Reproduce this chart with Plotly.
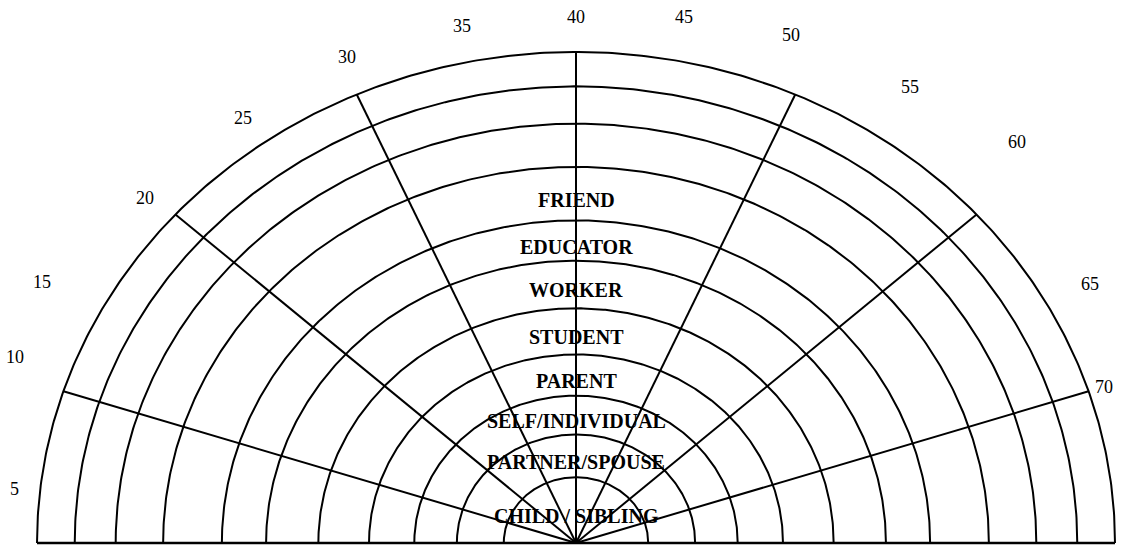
import numpy as np
import plotly.graph_objects as go

# ---------------- data ----------------
age_labels = [5, 10, 15, 20, 25, 30, 35, 40, 45, 50, 55, 60, 65, 70]
spoke_ages = [10, 20, 30, 40, 50, 60, 70]
# ring radii (outer -> inner), relative to the outer ring
ring_radii = [1.0, 0.930, 0.854, 0.766, 0.657, 0.575, 0.478, 0.384, 0.300, 0.221, 0.134]
# roles, from the innermost band outwards
roles = ["CHILD / SIBLING", "PARTNER/SPOUSE", "SELF/INDIVIDUAL", "PARENT",
         "STUDENT", "WORKER", "EDUCATOR", "FRIEND"]

# ---------------- layout / style ----------------
W, H = 1135, 546
CX_PX, BASE_PX = 576, 543        # centre of the half disc in pixels
RX_PX, RY_PX = 539, 491          # pixel size of one radius unit (x, y)
LINE = dict(color="black", width=2)
SERIF = "Liberation Serif, Times New Roman, serif"
ROLE_YSHIFT = -6

# label placement tweaks per age label: (angle delta in degrees, radius factor)
label_tweak = {5: (0, 1.047), 10: (-2, 1.108), 15: (1.8, 1.125), 20: (0.7, 1.065),
               25: (-0.5, 1.064), 30: (-0.8, 1.077), 35: (-0.6, 1.074), 40: (0, 1.071),
               45: (1.4, 1.09), 50: (2.9, 1.11), 55: (2.3, 1.117), 60: (3, 1.156),
               65: (-1, 1.09), 70: (0, 1.03)}


def age_angle(age):
    """angle (degrees) of an age on the half disc"""
    return 186.0 - 2.4 * age


fig = go.Figure()

# concentric arcs
t = np.linspace(0, np.pi, 400)
for r in ring_radii:
    fig.add_trace(go.Scatter(x=r * np.cos(t), y=r * np.sin(t), mode="lines",
                             line=LINE, hoverinfo="skip", showlegend=False))

# baseline
outer = max(ring_radii)
fig.add_trace(go.Scatter(x=[-outer, outer], y=[0, 0], mode="lines",
                         line=dict(color="black", width=2.5), hoverinfo="skip",
                         showlegend=False))

# spokes
for a in spoke_ages:
    th = np.radians(age_angle(a))
    fig.add_trace(go.Scatter(x=[0, outer * np.cos(th)], y=[0, outer * np.sin(th)],
                             mode="lines", line=LINE, hoverinfo="skip",
                             showlegend=False))

annotations = []
# age labels
for a in age_labels:
    d, rf = label_tweak[a]
    th = np.radians(age_angle(a) + d)
    annotations.append(dict(x=rf * np.cos(th), y=rf * np.sin(th), text=str(a),
                            showarrow=False, xref="x", yref="y",
                            font=dict(family=SERIF, size=18, color="black")))

# role labels in the middle of their bands
inner_to_outer = sorted(ring_radii)
bounds = [0.0] + inner_to_outer
for i, role in enumerate(roles):
    ymid = (bounds[i] + bounds[i + 1]) / 2
    annotations.append(dict(x=0, y=ymid, text="<b>%s</b>" % role, showarrow=False,
                            xref="x", yref="y", yshift=ROLE_YSHIFT,
                            font=dict(family=SERIF, size=20, color="black")))

fig.update_layout(
    width=W, height=H, autosize=False,
    margin=dict(l=0, r=0, t=0, b=0),
    paper_bgcolor="white", plot_bgcolor="white",
    xaxis=dict(range=[-CX_PX / RX_PX, (W - CX_PX) / RX_PX], visible=False,
               fixedrange=True),
    yaxis=dict(range=[-(H - BASE_PX) / RY_PX, BASE_PX / RY_PX], visible=False,
               fixedrange=True),
    annotations=annotations,
    showlegend=False,
)

fig.write_html("out.html", config={"displayModeBar": False},
               post_script="document.body.style.margin='0';"
                           "document.body.style.overflow='hidden';")
